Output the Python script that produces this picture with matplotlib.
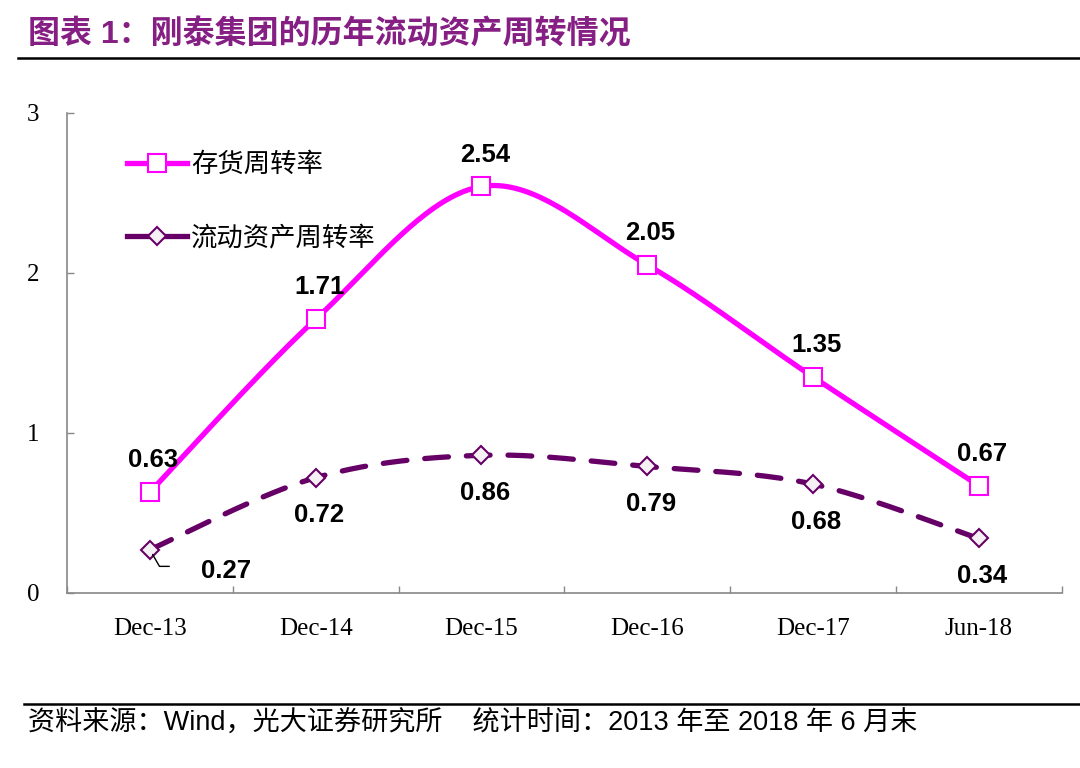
import numpy as np
import matplotlib.pyplot as plt
from matplotlib.lines import Line2D

plt.rcParams['font.family'] = ['Noto Sans CJK SC', 'DejaVu Sans']

categories = ['Dec-13', 'Dec-14', 'Dec-15', 'Dec-16', 'Dec-17', 'Jun-18']
inventory_turnover = [0.63, 1.71, 2.54, 2.05, 1.35, 0.67]
current_asset_turnover = [0.27, 0.72, 0.86, 0.79, 0.68, 0.34]
series_names = ['存货周转率', '流动资产周转率']

MAGENTA = '#FF00FF'
PURPLE = '#660066'


def smooth(xs, ys, steps=40):
    # Catmull-Rom style curve through the points, like a spreadsheet "smoothed line"
    xs = np.asarray(xs, float)
    ys = np.asarray(ys, float)
    px = np.concatenate([[xs[0]], xs, [xs[-1]]])
    py = np.concatenate([[ys[0]], ys, [ys[-1]]])
    out_x, out_y = [], []
    for i in range(1, len(px) - 2):
        p0, p1, p2, p3 = (np.array([px[j], py[j]]) for j in range(i - 1, i + 3))
        c1 = p1 + (p2 - p0) / 6
        c2 = p2 - (p3 - p1) / 6
        t = np.linspace(0, 1, steps)[:, None]
        b = ((1 - t) ** 3) * p1 + 3 * ((1 - t) ** 2) * t * c1 + 3 * (1 - t) * t ** 2 * c2 + t ** 3 * p2
        out_x.extend(b[:, 0])
        out_y.extend(b[:, 1])
    return np.array(out_x), np.array(out_y)


fig = plt.figure(figsize=(10.8, 7.68), dpi=100)
ax = fig.add_axes([0.062, 0.228, 0.921, 0.625])

x = np.arange(len(categories))

sx, sy = smooth(x, inventory_turnover)
ax.plot(sx, sy, color=MAGENTA, lw=3.8, solid_capstyle='round', zorder=2)
ax.plot(x, inventory_turnover, ls='none', marker='s', ms=12.5, mfc='white',
        mec=MAGENTA, mew=1.5, zorder=3)

sx, sy = smooth(x, current_asset_turnover)
ax.plot(sx, sy, color=PURPLE, lw=3.8, dashes=(4.5, 3.4), dash_capstyle='round', zorder=2)
ax.plot(x, current_asset_turnover, ls='none', marker='D', ms=9.5, mfc='#F4F0F4',
        mec=PURPLE, mew=1.5, zorder=3)

label_font = dict(fontsize=18.5, fontweight='bold', family=['Liberation Sans', 'DejaVu Sans'],
                  ha='center', va='center')
for i, v in enumerate(inventory_turnover):
    ax.annotate(f'{v:.2f}', (i, v), xytext=(2.5, 23), textcoords='offset points', **label_font)
for i, v in enumerate(current_asset_turnover):
    if i == 0:
        ax.annotate(f'{v:.2f}', (i, v), xytext=(55, -15), textcoords='offset points', **label_font)
        # leader line from the label back to the marker
        ax.annotate('', (i, v), xytext=(14, -12), textcoords='offset points',
                    arrowprops=dict(arrowstyle='-', color='black', lw=1,
                                    connectionstyle='angle,angleA=0,angleB=-60,rad=0',
                                    shrinkA=0, shrinkB=4))
    else:
        ax.annotate(f'{v:.2f}', (i, v), xytext=(2.5, -27), textcoords='offset points', **label_font)

ax.set_xlim(-0.5, len(categories) - 0.5)
ax.set_ylim(0, 3)
ax.set_yticks([0, 1, 2, 3])
ax.set_xticks(x)
ax.set_xticklabels(categories)
ax.set_xticks(np.arange(-0.5, len(categories)), minor=True)

serif = ['Liberation Serif', 'DejaVu Serif']
for lab in ax.get_xticklabels() + ax.get_yticklabels():
    lab.set_family(serif)
    lab.set_fontsize(18)

ax.tick_params(axis='x', which='major', length=0, pad=18)
ax.tick_params(axis='x', which='minor', direction='in', length=5, color='#888888', width=1)
ax.tick_params(axis='y', direction='in', length=5, color='#888888', width=1, pad=20)

for side in ['top', 'right']:
    ax.spines[side].set_visible(False)
for side in ['left', 'bottom']:
    ax.spines[side].set_color('#888888')
    ax.spines[side].set_linewidth(1.2)

handles = [
    Line2D([], [], color=MAGENTA, lw=3.8, marker='s', ms=12.5, mfc='white', mec=MAGENTA, mew=1.5),
    Line2D([], [], color=PURPLE, lw=3.8, marker='D', ms=9.5, mfc='#F4F0F4', mec=PURPLE, mew=1.5),
]
ax.legend(handles, series_names, loc='upper left', bbox_to_anchor=(0.036, 0.97),
          frameon=False, fontsize=19, handlelength=2.3, handletextpad=0.15,
          labelspacing=1.75)

# title and source
fig.text(0.026, 0.954, '图表 1：刚泰集团的历年流动资产周转情况', fontsize=23,
         fontweight='bold', color='#861F84', va='center', ha='left',
         family=['Liberation Sans', 'Noto Sans CJK SC'])
fig.add_artist(Line2D([0.017, 1.0], [0.924, 0.924], color='black', lw=1.8))
fig.add_artist(Line2D([0.022, 1.0], [0.083, 0.083], color='black', lw=1.8))
fig.text(0.026, 0.058, '资料来源：Wind，光大证券研究所    统计时间：2013 年至 2018 年 6 月末',
         fontsize=19.5, color='black', va='center', ha='left',
         family=['Liberation Sans', 'Noto Sans CJK SC'])

fig.savefig('out.png', dpi=100)
